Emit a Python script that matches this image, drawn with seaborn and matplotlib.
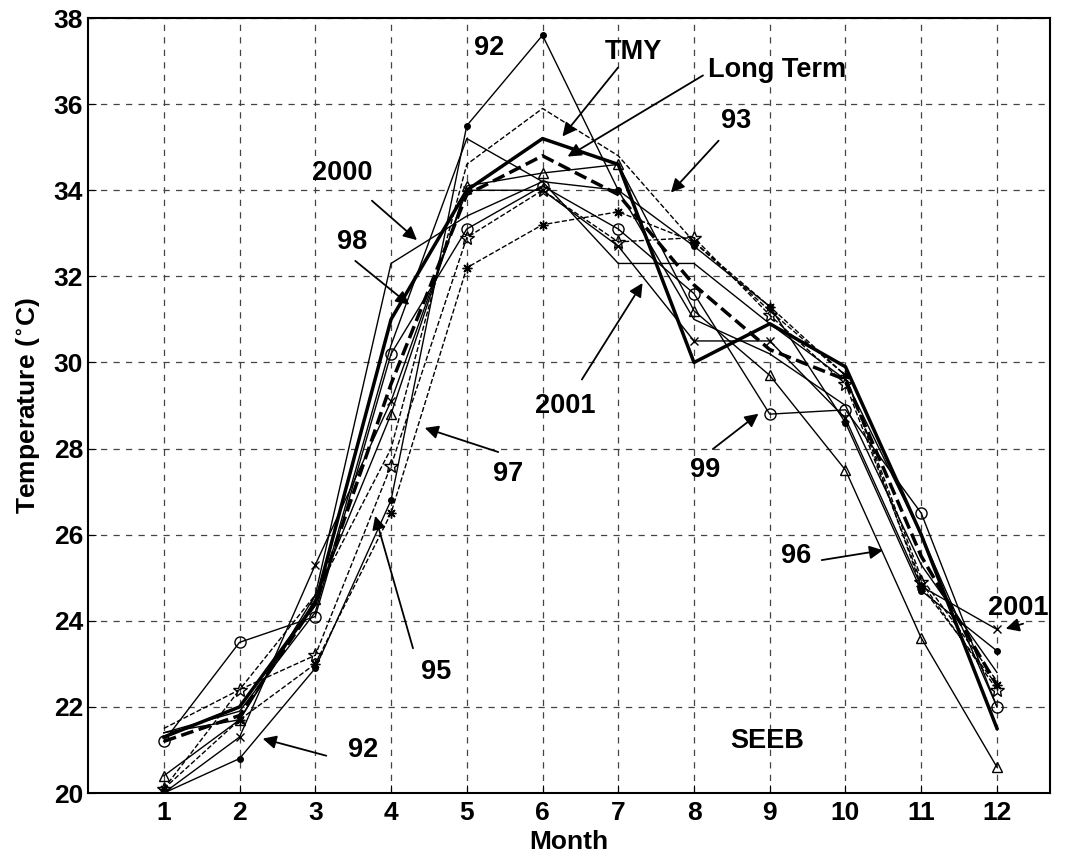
import numpy as np
import seaborn as sns
import matplotlib
matplotlib.use("Agg")
import matplotlib.pyplot as plt

months = list(range(1, 13))

# monthly mean temperatures (deg C)
tmy       = [21.3, 22.0, 24.4, 31.0, 34.0, 35.2, 34.6, 30.0, 30.9, 29.9, 26.0, 21.5]
long_term = [21.2, 21.8, 24.4, 29.5, 33.9, 34.8, 33.9, 31.8, 30.3, 29.6, 25.5, 22.5]
y92       = [20.0, 20.8, 22.9, 26.8, 35.5, 37.6, 34.0, 32.7, 31.3, 28.6, 24.7, 23.3]
y93       = [21.5, 22.4, 24.6, 28.0, 34.6, 35.9, 34.8, 32.8, 31.2, 29.7, 25.0, 22.6]
y95       = [20.1, 21.7, 23.0, 26.5, 32.2, 33.2, 33.5, 32.8, 31.3, 29.7, 24.8, 22.5]
y96       = [20.4, 21.7, 24.5, 28.8, 34.1, 34.4, 34.6, 31.2, 29.7, 27.5, 23.6, 20.6]
y97       = [20.1, 22.4, 23.2, 27.6, 32.9, 34.0, 32.8, 32.9, 31.1, 29.5, 24.9, 22.4]
y98       = [21.4, 21.9, 24.2, 30.4, 35.2, 34.2, 32.3, 32.3, 30.9, 29.6, 26.0, 22.0]
y99       = [21.2, 23.5, 24.1, 30.2, 33.1, 34.1, 33.1, 31.6, 28.8, 28.9, 26.5, 22.0]
y2000     = [21.4, 21.7, 24.6, 32.3, 33.4, 34.2, 34.0, 31.0, 30.2, 29.0, 25.3, 22.8]
y2001     = [20.0, 21.3, 25.3, 29.1, 34.0, 34.0, 32.7, 30.5, 30.5, 28.7, 24.8, 23.8]

plt.rcParams['font.family'] = ['Liberation Sans', 'DejaVu Sans']
plt.rcParams['font.weight'] = 'bold'

fig = plt.figure(figsize=(10.66, 8.59), dpi=100)
ax = fig.add_axes([0.0826, 0.0768, 0.9024, 0.9022])

star8 = (8, 2, 0)
series = [
    (y92,   dict(lw=1.0, ls='-',  marker='o', ms=4, mfc='k')),
    (y93,   dict(lw=1.0, ls='--', marker=None)),
    (y95,   dict(lw=1.0, ls='--', marker=star8, ms=7)),
    (y96,   dict(lw=1.0, ls='-',  marker='^', ms=7, mfc='none')),
    (y97,   dict(lw=1.0, ls='--', marker='*', ms=10, mfc='none')),
    (y98,   dict(lw=1.0, ls='-',  marker=None)),
    (y99,   dict(lw=1.0, ls='-',  marker='o', ms=8, mfc='none')),
    (y2000, dict(lw=1.0, ls='-',  marker=None)),
    (y2001, dict(lw=1.0, ls='-',  marker='x', ms=6)),
    (long_term, dict(lw=2.5, ls='--', marker=None)),
    (tmy,   dict(lw=2.5, ls='-',  marker=None)),
]
for vals, kw in series:
    sns.lineplot(x=months, y=vals, ax=ax, color='k', mec='k', mew=1.0, **kw)

ax.set_xlim(0, 12.7)
ax.set_ylim(20, 38)
ax.set_xticks(months)
ax.set_yticks(np.arange(20, 39, 2))
ax.grid(True, color='#444444', ls=(0, (5, 5)), lw=0.9)
ax.tick_params(direction='in', labelsize=19, length=6)
ax.tick_params(axis='x', pad=6)
for lab in ax.get_xticklabels() + ax.get_yticklabels():
    lab.set_fontweight('bold')
for sp in ax.spines.values():
    sp.set_linewidth(1.5)
ax.set_xlabel('Month', fontsize=19, fontweight='bold', labelpad=3)
ax.set_ylabel('Temperature ($^{\\circ}$C)', fontsize=19, fontweight='bold', labelpad=8)

arrow = dict(arrowstyle='-|>', color='k', lw=1.3, mutation_scale=20)
tfont = dict(fontsize=19.5, fontweight='bold', ha='center', va='center')

# (label, text pos, arrow tip or None)
notes = [
    ('92',        (5.30, 37.3), None),
    ('TMY',       (7.20, 37.2), (6.24, 35.2)),
    ('Long Term', (9.10, 36.8), (6.30, 34.75)),
    ('93',        (8.55, 35.6), (7.67, 33.9)),
    ('2000',      (3.35, 34.4), (4.37, 32.8)),
    ('98',        (3.48, 32.8), (4.27, 31.3)),
    ('2001',      (6.30, 29.0), (7.34, 31.9)),
    ('97',        (5.55, 27.4), (4.41, 28.5)),
    ('95',        (4.60, 22.8), (3.78, 26.5)),
    ('99',        (8.15, 27.5), (8.88, 28.85)),
    ('96',        (9.35, 25.5), (10.53, 25.65)),
    ('2001',      (12.28, 24.3), (12.08, 23.8)),
    ('92',        (3.63, 21.0), (2.27, 21.28)),
    ('SEEB',      (8.97, 21.2), None),
]
tails = {
    'TMY': (7.02, 36.9), 'Long Term': (8.15, 36.7), '93': (8.35, 35.2),
    '2000': (3.72, 33.8), '98': (3.50, 32.4), '2001a': (6.50, 29.55),
    '97': (5.45, 27.9), '95': (4.30, 23.3), '99': (8.22, 27.95),
    '96': (9.65, 25.4), '2001b': (12.38, 23.95), '92b': (3.18, 20.85),
}
keys = [None, 'TMY', 'Long Term', '93', '2000', '98', '2001a', '97', '95',
        '99', '96', '2001b', '92b', None]
for (txt, pos, tip), key in zip(notes, keys):
    ax.text(pos[0], pos[1], txt, **tfont)
    if tip is not None:
        ax.annotate('', xy=tip, xytext=tails[key], arrowprops=arrow)

fig.savefig('out.png', dpi=100)
